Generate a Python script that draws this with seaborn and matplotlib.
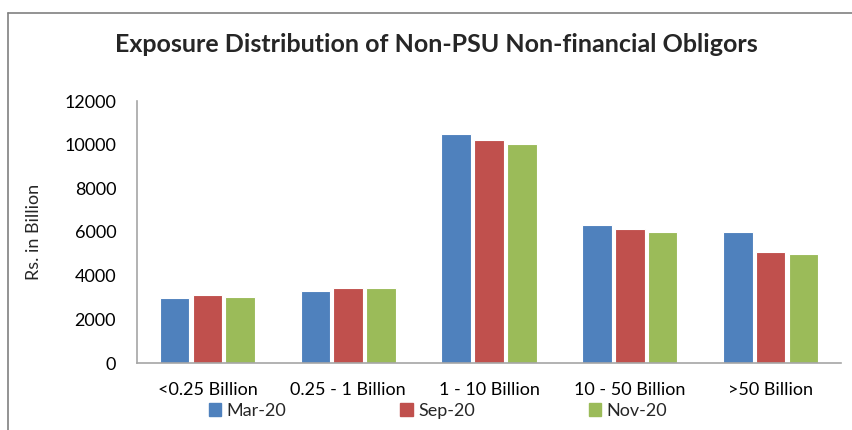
import matplotlib
matplotlib.use("Agg")
import matplotlib.pyplot as plt
import matplotlib.patches as mpatches
import seaborn as sns
import pandas as pd

# --- Data ---
categories = ["<0.25 Billion", "0.25 - 1 Billion", "1 - 10 Billion", "10 - 50 Billion", ">50 Billion"]
periods = ["Mar-20", "Sep-20", "Nov-20"]
mar20 = [3000, 3300, 10500, 6320, 6010]
sep20 = [3130, 3420, 10200, 6150, 5100]
nov20 = [3040, 3420, 10020, 6010, 5010]

COLORS = {"Mar-20": "#4F81BD", "Sep-20": "#C0504D", "Nov-20": "#9BBB59"}

df = pd.DataFrame({
    "category": categories * 3,
    "period": [p for p in periods for _ in categories],
    "value": mar20 + sep20 + nov20,
})

sns.set_theme(style="white")
plt.rcParams["font.family"] = ["Lato", "DejaVu Sans"]

fig = plt.figure(figsize=(8.52, 4.3), dpi=100)
ax = fig.add_axes([137 / 852, 1 - 363 / 430, 704 / 852, 262 / 430])

sns.barplot(data=df, x="category", y="value", hue="period", order=categories,
            hue_order=periods, palette=COLORS, saturation=1, width=0.7, gap=0.1,
            edgecolor="white", linewidth=0.8, ax=ax, legend=False)

ax.set_ylim(0, 12000)
ax.set_yticks(range(0, 12001, 2000))
ax.tick_params(axis="both", labelsize=13, length=0, colors="#000000")
ax.tick_params(axis="y", pad=15)
ax.tick_params(axis="x", pad=14)
ax.set_xlabel("")
ax.set_ylabel("Rs. in Billion", fontsize=13, labelpad=16)
for s in ["top", "right"]:
    ax.spines[s].set_visible(False)
for s in ["left", "bottom"]:
    ax.spines[s].set_color("#A6A6A6")
    ax.spines[s].set_linewidth(1.2)

fig.text(436 / 852, 1 - 45 / 430, "Exposure Distribution of Non-PSU Non-financial Obligors",
         ha="center", va="center", fontsize=18, fontweight="bold")

handles = [mpatches.Patch(color=COLORS[p], label=p) for p in periods]
fig.legend(handles=handles, loc="center", bbox_to_anchor=(438 / 852, 1 - 411 / 430),
           ncol=3, frameon=False, fontsize=13, handlelength=0.7, handleheight=0.7,
           handletextpad=0.3, columnspacing=6.3)

# chart frame lines (top and left)
fig.add_artist(plt.Line2D([8 / 852, 1], [1 - 13 / 430, 1 - 13 / 430], color="#808080", lw=1.2))
fig.add_artist(plt.Line2D([8 / 852, 8 / 852], [0, 1 - 13 / 430], color="#808080", lw=1.2))

fig.savefig("out.png", dpi=100)
